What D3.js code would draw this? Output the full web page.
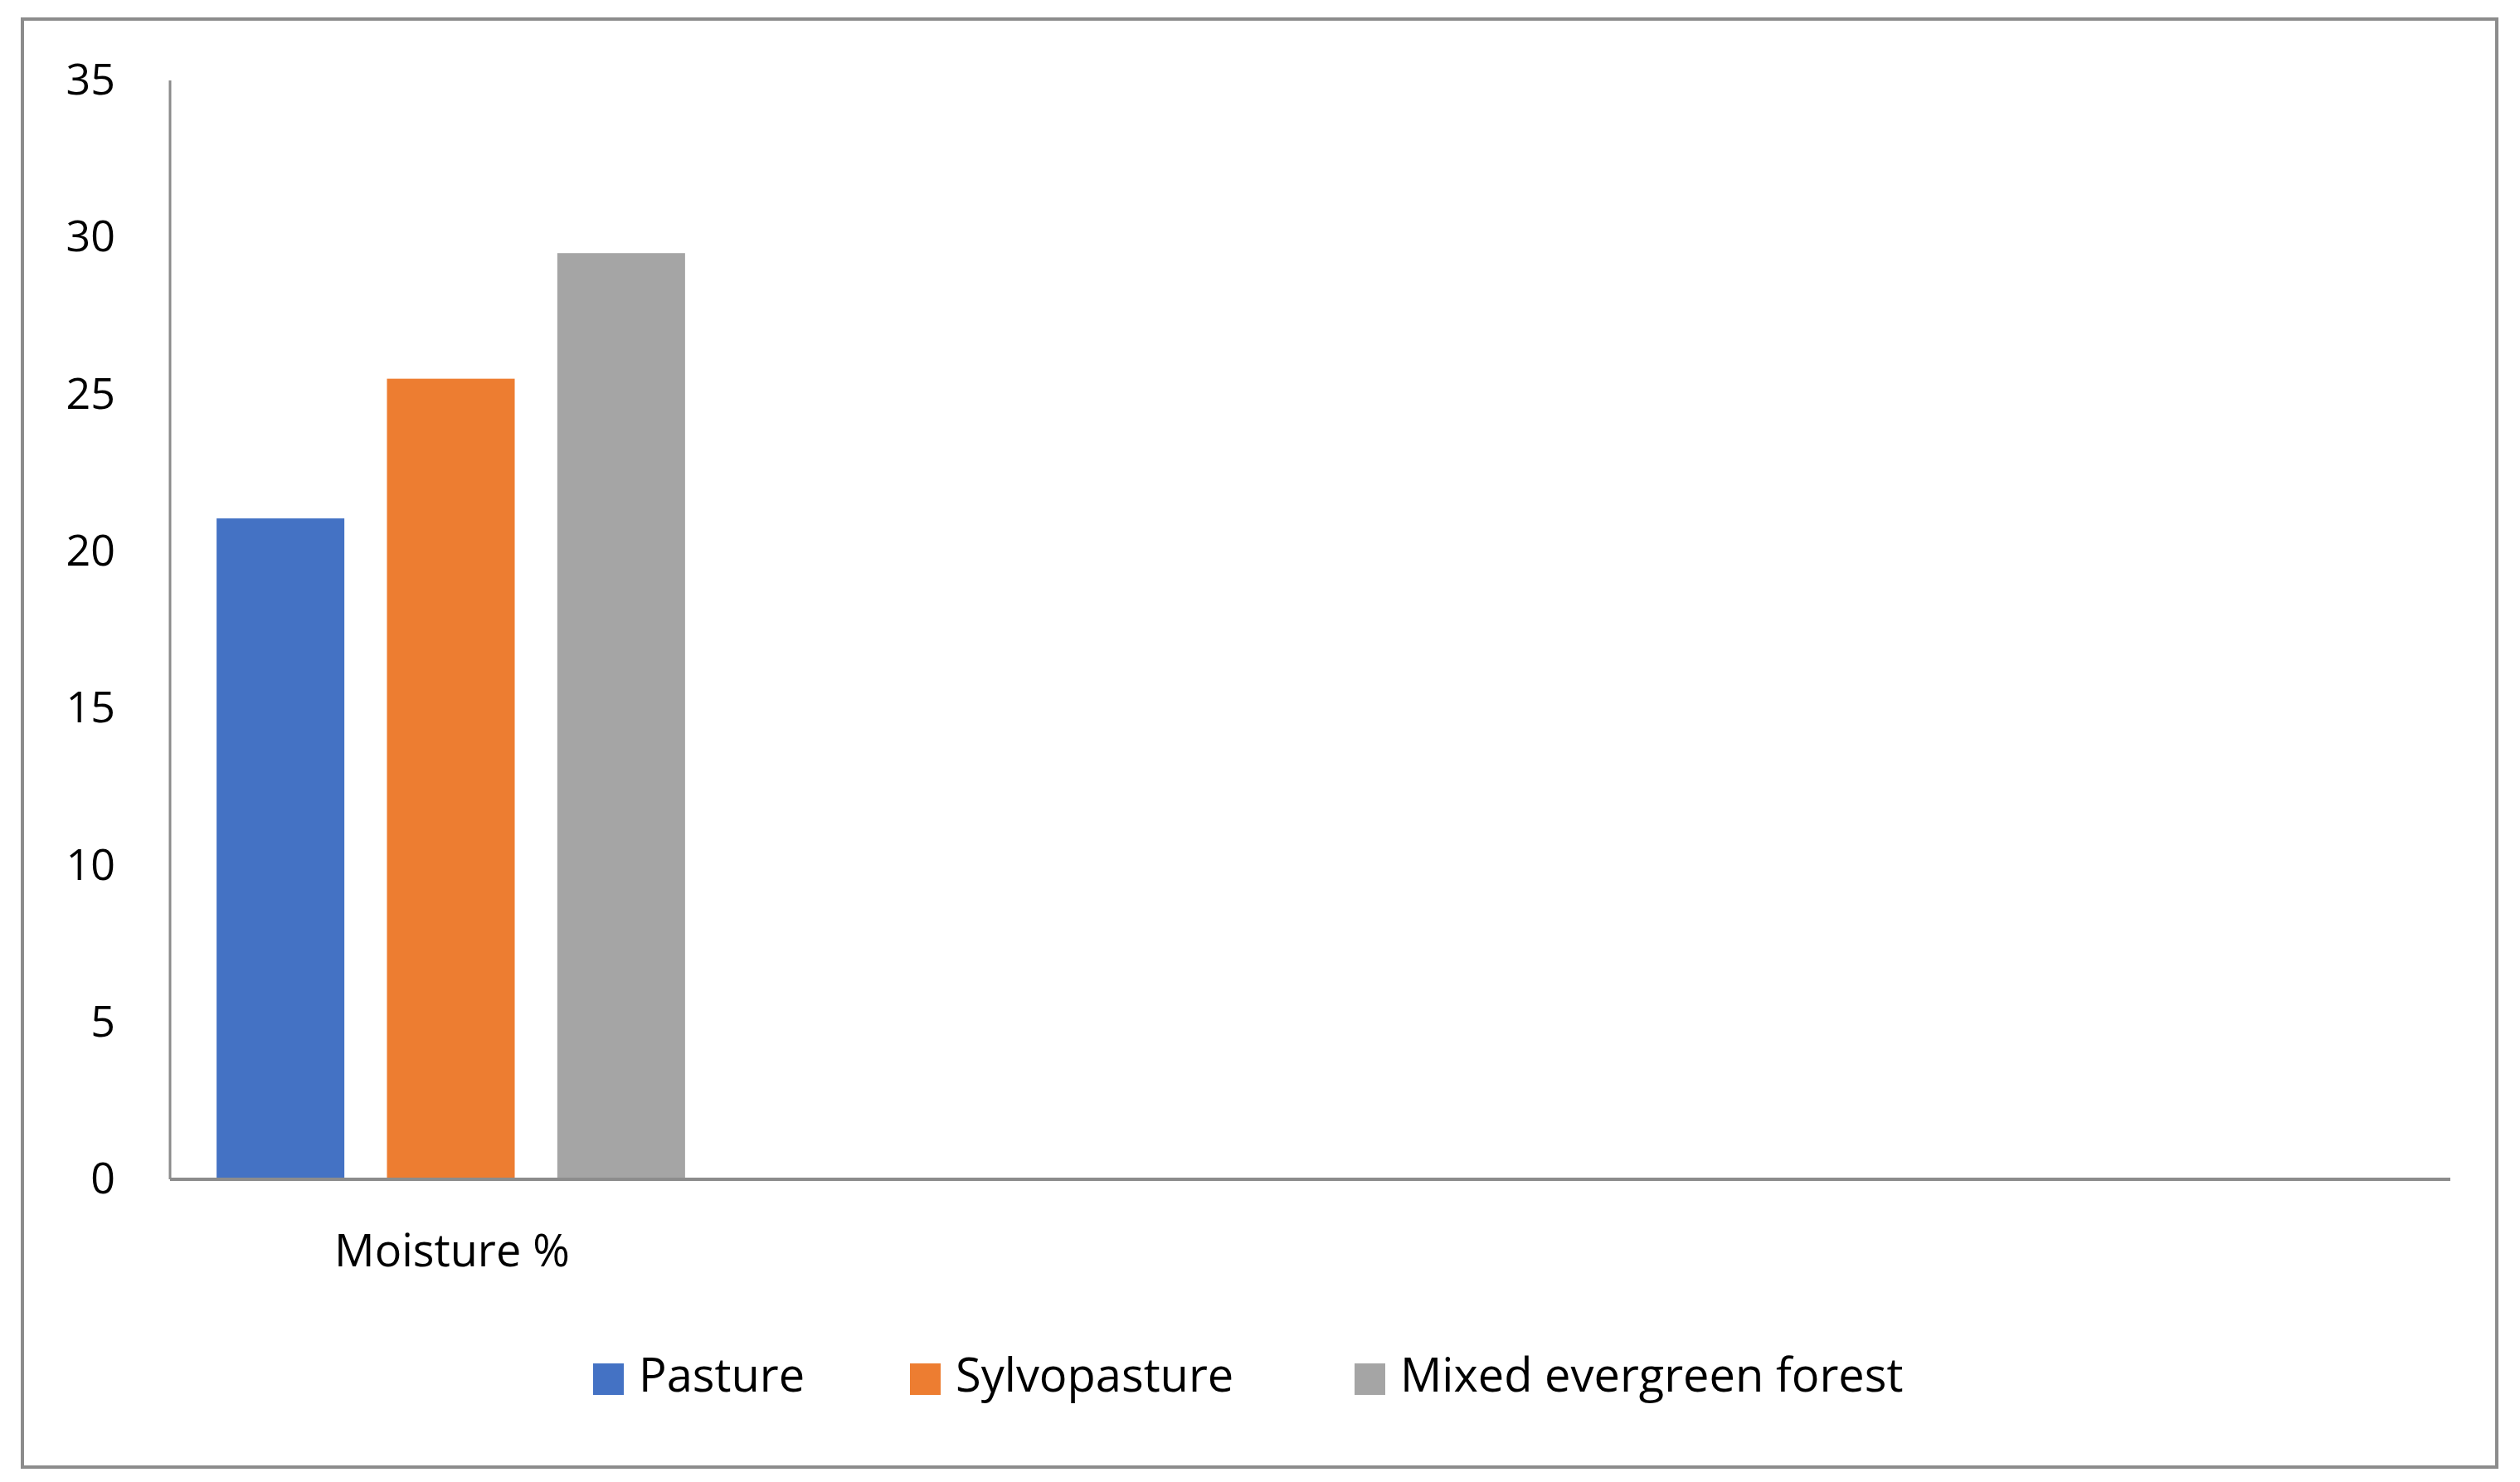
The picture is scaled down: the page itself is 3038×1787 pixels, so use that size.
<!DOCTYPE html><html><head><meta charset="utf-8"><script src="https://cdn.jsdelivr.net/npm/d3@7"></script>
<style>body{margin:0;background:#fff}text{font-family:"Open Sans",sans-serif;fill:#000}</style></head><body>
<svg id="c" width="3038" height="1787"></svg>
<script>
const categories=["Moisture %"];
const series=["Pasture","Sylvopasture","Mixed evergreen forest"];
const values=[21.05,25.5,29.5];
const colors=["#4472c4","#ed7d31","#a5a5a5"];
const ticks=[0,5,10,15,20,25,30,35];
const svg=d3.select("#c");
svg.append("rect").attr("x",27).attr("y",23).attr("width",2983).attr("height",1746).attr("fill","none").attr("stroke","#8c8c8c").attr("stroke-width",4);
const L=205,R=2954,T=97,B=1422;
const y=d3.scaleLinear().domain([0,35]).range([B,T]);
const x0=d3.scaleBand().domain(categories).range([L,L+(R-L)/3*0+ (R-L)]).padding(0);
// group width: one category spanning first part; bars positioned with band scale inside
const x1=d3.scaleBand().domain(series).range([257,830]).paddingInner(0.25).paddingOuter(0.02);
svg.selectAll(".bar").data(values).join("rect").attr("x",(d,i)=>x1(series[i])).attr("width",x1.bandwidth())
 .attr("y",d=>y(d)).attr("height",d=>B-y(d)).attr("fill",(d,i)=>colors[i]);
svg.append("line").attr("x1",L).attr("x2",L).attr("y1",T).attr("y2",B).attr("stroke","#8c8c8c").attr("stroke-width",3);
svg.append("line").attr("x1",L).attr("x2",R).attr("y1",B).attr("y2",B).attr("stroke","#8c8c8c").attr("stroke-width",4);
const ax=svg.append("g").attr("transform",`translate(${L},0)`).call(d3.axisLeft(y).tickValues(ticks).tickSize(0).tickPadding(66));
ax.select(".domain").remove();
ax.selectAll("text").style("font-size","52px").style("font-family","Open Sans");
svg.append("text").attr("x",545).attr("y",1513).attr("text-anchor","middle").attr("dominant-baseline","middle").style("font-size","54px").text(categories[0]);
const lx=[715,1097,1633];
series.forEach((s,i)=>{
 svg.append("rect").attr("x",lx[i]).attr("y",1644).attr("width",37).attr("height",38).attr("fill",colors[i]);
 svg.append("text").attr("x",lx[i]+55).attr("y",1663).attr("dominant-baseline","middle").style("font-size","56px").text(s);
});
</script></body></html>
